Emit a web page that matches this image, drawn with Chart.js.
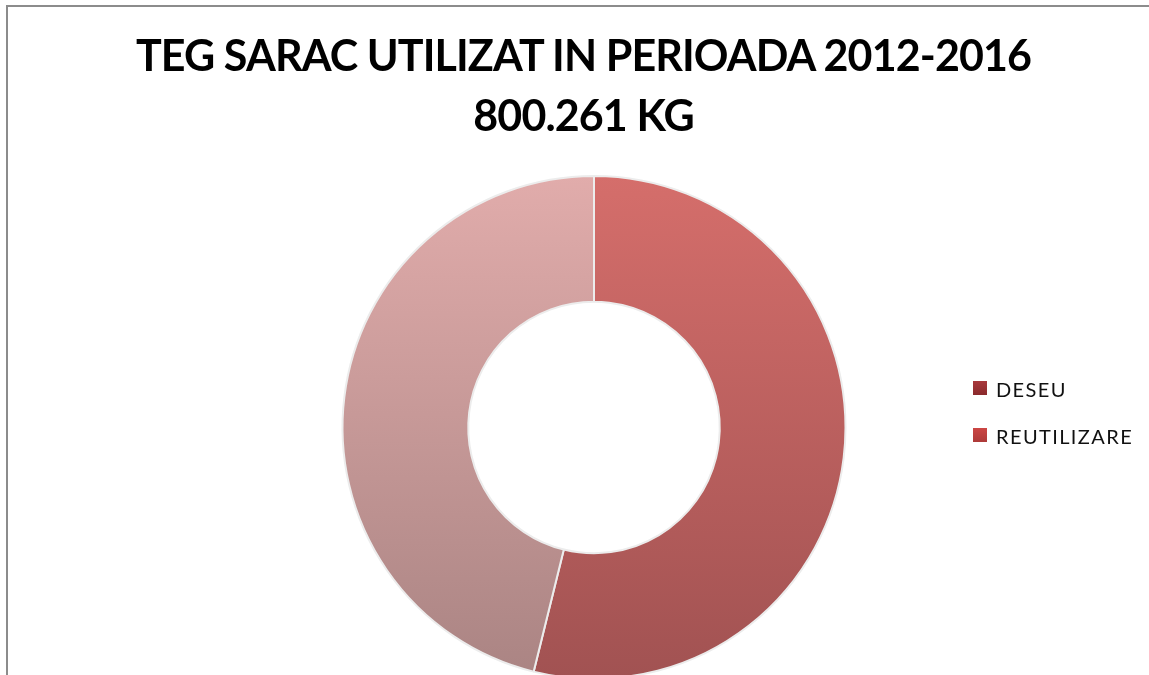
<!DOCTYPE html>
<html>
<head>
<meta charset="utf-8">
<script src="https://cdn.jsdelivr.net/npm/chart.js@4.4.1/dist/chart.umd.min.js"></script>
<style>
  html, body { margin:0; padding:0; background:#fff; }
  body { width:1149px; height:675px; overflow:hidden; position:relative; font-family:Lato, sans-serif; }
  .frame { position:absolute; left:6px; top:5px; width:1400px; height:900px; border-left:2px solid #8c8c8c; border-top:2px solid #8c8c8c; }
  #chart { position:absolute; left:0; top:0; }
  .title { position:absolute; left:0; top:25px; width:1167px; text-align:center; font-weight:700; font-size:43px; line-height:60px; letter-spacing:-0.9px; color:#000; }
  .legend { position:absolute; left:973px; top:379px; }
  .legend-item { display:flex; align-items:flex-start; height:20px; margin-bottom:27px; }
  .legend-box { width:14px; height:14px; margin-top:2px; margin-right:9px; flex-shrink:0; }
  .legend-text { font-size:20px; line-height:20px; letter-spacing:1.4px; color:#111; white-space:nowrap; }
</style>
</head>
<body>
<div class="frame"></div>
<canvas id="chart" width="1149" height="700"></canvas>
<div class="title" id="title"></div>
<div class="legend" id="legend"></div>
<script>
const titleLines = ['TEG SARAC UTILIZAT IN PERIOADA 2012-2016', '800.261 KG'];
const categories = ['DESEU', 'REUTILIZARE'];
const values = [431000, 369261];
// legend swatches (top, bottom)
const legendColors = [['#a8383b', '#8a2a2c'], ['#cc4644', '#ad3a39']];
// slice gradients, top -> bottom
const sliceTop = ['#d56e6b', '#e1acab'];
const sliceBottom = ['#a15252', '#aa8483'];

document.getElementById('title').innerHTML = titleLines.join('<br>');
document.getElementById('legend').innerHTML = categories.map((c, i) => `
  <div class="legend-item">
    <div class="legend-box" style="background:linear-gradient(${legendColors[i][0]},${legendColors[i][1]});"></div>
    <div class="legend-text">${c}</div>
  </div>`).join('');

function sliceFill(ctx) {
  const area = ctx.chart.chartArea;
  const i = ctx.dataIndex;
  if (!area) return sliceTop[i];
  const g = ctx.chart.ctx.createLinearGradient(0, area.top, 0, area.bottom);
  g.addColorStop(0, sliceTop[i]);
  g.addColorStop(1, sliceBottom[i]);
  return g;
}

new Chart(document.getElementById('chart'), {
  type:'doughnut',
  data:{
    labels:categories,
    datasets:[{data:values, backgroundColor:sliceFill, borderColor:'#ececec', borderWidth:2}]
  },
  options:{
    responsive:false,
    animation:false,
    cutout:'50%',
    layout:{padding:{left:39, right:0, top:175, bottom:20}},
    plugins:{
      title:{display:false},
      legend:{display:false},
      tooltip:{enabled:false}
    }
  }
});
</script>
</body>
</html>
